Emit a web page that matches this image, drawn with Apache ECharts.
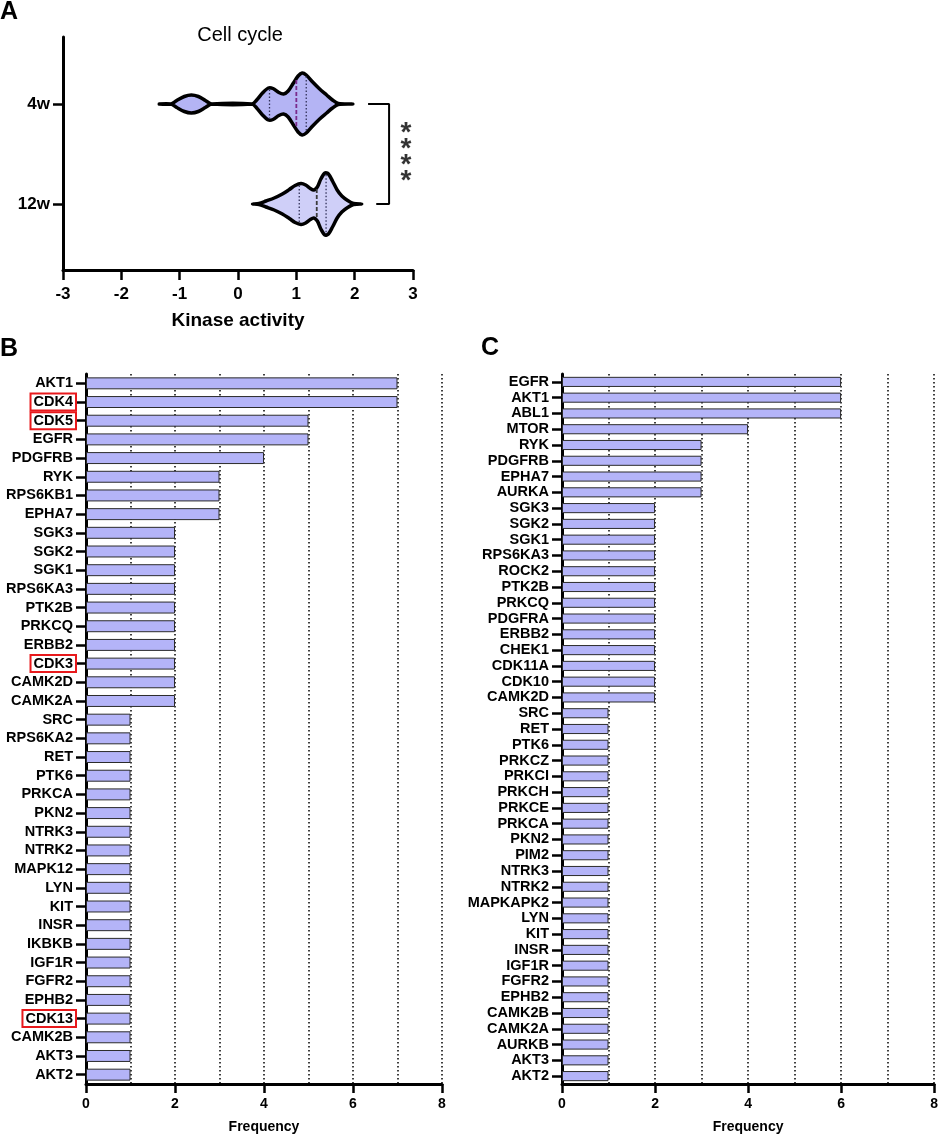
<!DOCTYPE html>
<html>
<head>
<meta charset="utf-8">
<script src="https://cdn.jsdelivr.net/npm/echarts@6.0.0/dist/echarts.min.js"></script>
<style>
html, body { margin: 0; padding: 0; background: #fff; }
#fig { width: 941px; height: 1139px; }
</style>
</head>
<body>
<div id="fig"></div>
<script>
// ---- panel A: violin outlines, [kinase activity, half width]
var groups = ['12w', '4w'];
var violin12w = [
    [0.25, 0], [0.36, 0.005], [0.48, 0.03], [0.62, 0.06], [0.76, 0.10], [0.88, 0.145],
    [0.98, 0.185], [1.08, 0.205], [1.16, 0.19], [1.24, 0.155], [1.30, 0.14], [1.36, 0.17],
    [1.42, 0.25], [1.49, 0.31], [1.55, 0.30], [1.62, 0.23], [1.70, 0.14], [1.78, 0.08],
    [1.88, 0.035], [1.98, 0.005], [2.12, 0]
];
var violin4w = [
    [-1.35, 0], [-1.15, 0], [-1.05, 0.035], [-0.92, 0.075], [-0.80, 0.09], [-0.68, 0.075],
    [-0.56, 0.035], [-0.45, 0], [0.24, 0], [0.32, 0.04], [0.42, 0.11], [0.52, 0.16],
    [0.60, 0.155], [0.70, 0.115], [0.78, 0.10], [0.86, 0.13], [0.95, 0.21], [1.03, 0.28],
    [1.10, 0.31], [1.17, 0.29], [1.28, 0.22], [1.40, 0.15], [1.52, 0.09], [1.62, 0.04],
    [1.72, 0.005], [1.97, 0]
];
var quart12w = [1.05, 1.35, 1.51];
var quart4w = [0.54, 1.00, 1.17];
var bracket = [[2.23, 1], [2.59, 1], [2.59, 0], [2.37, 0]];
var starPos = [[2.88, 0.47]];

// ---- panel B
var kinB = ['AKT1', 'CDK4', 'CDK5', 'EGFR', 'PDGFRB', 'RYK', 'RPS6KB1', 'EPHA7', 'SGK3', 'SGK2',
    'SGK1', 'RPS6KA3', 'PTK2B', 'PRKCQ', 'ERBB2', 'CDK3', 'CAMK2D', 'CAMK2A', 'SRC', 'RPS6KA2',
    'RET', 'PTK6', 'PRKCA', 'PKN2', 'NTRK3', 'NTRK2', 'MAPK12', 'LYN', 'KIT', 'INSR',
    'IKBKB', 'IGF1R', 'FGFR2', 'EPHB2', 'CDK13', 'CAMK2B', 'AKT3', 'AKT2'];
var freqB = [7, 7, 5, 5, 4, 3, 3, 3, 2, 2,
    2, 2, 2, 2, 2, 2, 2, 2, 1, 1,
    1, 1, 1, 1, 1, 1, 1, 1, 1, 1,
    1, 1, 1, 1, 1, 1, 1, 1];
var boxedB = ['CDK4', 'CDK5', 'CDK3', 'CDK13'];

// ---- panel C
var kinC = ['EGFR', 'AKT1', 'ABL1', 'MTOR', 'RYK', 'PDGFRB', 'EPHA7', 'AURKA', 'SGK3', 'SGK2',
    'SGK1', 'RPS6KA3', 'ROCK2', 'PTK2B', 'PRKCQ', 'PDGFRA', 'ERBB2', 'CHEK1', 'CDK11A', 'CDK10',
    'CAMK2D', 'SRC', 'RET', 'PTK6', 'PRKCZ', 'PRKCI', 'PRKCH', 'PRKCE', 'PRKCA', 'PKN2',
    'PIM2', 'NTRK3', 'NTRK2', 'MAPKAPK2', 'LYN', 'KIT', 'INSR', 'IGF1R', 'FGFR2', 'EPHB2',
    'CAMK2B', 'CAMK2A', 'AURKB', 'AKT3', 'AKT2'];
var freqC = [6, 6, 6, 4, 3, 3, 3, 3, 2, 2,
    2, 2, 2, 2, 2, 2, 2, 2, 2, 2,
    2, 1, 1, 1, 1, 1, 1, 1, 1, 1,
    1, 1, 1, 1, 1, 1, 1, 1, 1, 1,
    1, 1, 1, 1, 1];

var FONT = 'Liberation Sans, Arial, sans-serif';
var profiles = [violin12w, violin4w];
var quartiles = [quart12w, quart4w];
var violinFill = ['#cfcff8', '#b4b4f4'];
var medianColor = ['#3c3c3c', '#7a2a8c'];

function halfWidthAt(prof, x) {
    for (var i = 1; i < prof.length; i++) {
        if (x <= prof[i][0]) {
            var a = prof[i - 1], b = prof[i];
            return a[1] + (b[1] - a[1]) * (x - a[0]) / (b[0] - a[0]);
        }
    }
    return 0;
}

function renderViolin(params, api) {
    var g = api.value(1);
    var prof = profiles[g];
    var pts = [];
    var i;
    for (i = 0; i < prof.length; i++) pts.push(api.coord([prof[i][0], g + prof[i][1]]));
    for (i = prof.length - 2; i > 0; i--) pts.push(api.coord([prof[i][0], g - prof[i][1]]));
    var kids = [{
        type: 'polygon',
        shape: { points: pts, smooth: 0.3 },
        style: { fill: violinFill[g], stroke: '#000', lineWidth: 3.5, lineJoin: 'round' }
    }];
    quartiles[g].forEach(function (q, k) {
        var h = halfWidthAt(prof, q) - 0.014;
        var p1 = api.coord([q, g + h]), p2 = api.coord([q, g - h]);
        kids.push({
            type: 'line',
            shape: { x1: p1[0], y1: p1[1], x2: p2[0], y2: p2[1] },
            style: {
                stroke: k === 1 ? medianColor[g] : '#33335a',
                lineWidth: k === 1 ? 1.8 : 1.3,
                lineDash: k === 1 ? [4, 2] : [1.5, 2]
            }
        });
    });
    return { type: 'group', children: kids };
}

function boxedLabel(list) {
    return function (v) {
        return list.indexOf(v) >= 0 ? '{hl|' + v + '}' : '{n|' + v + '}';
    };
}
var kinRich = {
    n: { fontFamily: FONT, fontSize: 14.5, fontWeight: 'bold', color: '#000', lineHeight: 14, padding: [1, 3, 1, 3] },
    hl: { fontFamily: FONT, fontSize: 14.5, fontWeight: 'bold', color: '#000', lineHeight: 14, padding: [1, 3, 1, 3],
          borderColor: '#e8191c', borderWidth: 2 }
};

function barYAxis(grid, names, boxed) {
    return {
        type: 'category', gridIndex: grid, data: names, inverse: true,
        axisLine: { show: true, onZero: false, lineStyle: { color: '#000', width: 3 } },
        axisTick: { show: true, alignWithLabel: true, length: 10, lineStyle: { color: '#000', width: 2.5 } },
        axisLabel: { margin: 10, interval: 0, formatter: boxedLabel(boxed), rich: kinRich },
        splitLine: { show: false }
    };
}
function barXAxis(grid) {
    return {
        type: 'value', gridIndex: grid, min: 0, max: 8, interval: 2,
        name: 'Frequency', nameLocation: 'middle', nameGap: 36,
        nameTextStyle: { fontFamily: FONT, fontSize: 14, fontWeight: 'bold', color: '#000' },
        axisLine: { show: true, onZero: false, lineStyle: { color: '#000', width: 3 } },
        axisTick: { show: true, length: 9, lineStyle: { color: '#000', width: 2.5 } },
        minorTick: { show: false, splitNumber: 2 },
        axisLabel: { margin: 13, fontFamily: FONT, fontSize: 14, fontWeight: 'bold', color: '#000' },
        splitLine: { show: true, lineStyle: { color: '#000', width: 1.5, type: [1.5, 2.5] } },
        minorSplitLine: { show: true, lineStyle: { color: '#000', width: 1.5, type: [1.5, 2.5] } }
    };
}

var chart = echarts.init(document.getElementById('fig'), null, { renderer: 'canvas' });
chart.setOption({
    backgroundColor: '#fff',
    animation: false,
    title: [
        { text: 'A', left: 0, top: 0, padding: 0, textStyle: { fontFamily: FONT, fontSize: 25, fontWeight: 'bold', color: '#000' } },
        { text: 'B', left: 0, top: 337, padding: 0, textStyle: { fontFamily: FONT, fontSize: 25, fontWeight: 'bold', color: '#000' } },
        { text: 'C', left: 481, top: 336, padding: 0, textStyle: { fontFamily: FONT, fontSize: 25, fontWeight: 'bold', color: '#000' } },
        { text: 'Cell cycle', left: 240, textAlign: 'center', top: 25, padding: 0,
          textStyle: { fontFamily: FONT, fontSize: 20, fontWeight: 'normal', color: '#000' } }
    ],
    grid: [
        { left: 63, right: 528, top: 37, bottom: 869 },
        { left: 86, right: 499, top: 374, bottom: 54 },
        { left: 562, right: 4, top: 374, bottom: 54 }
    ],
    xAxis: [
        {
            type: 'value', gridIndex: 0, min: -3, max: 3, interval: 1,
            name: 'Kinase activity', nameLocation: 'middle', nameGap: 41,
            nameTextStyle: { fontFamily: FONT, fontSize: 19, fontWeight: 'bold', color: '#000' },
            axisLine: { show: true, onZero: false, lineStyle: { color: '#000', width: 3 } },
            axisTick: { show: true, length: 10, lineStyle: { color: '#000', width: 2.5 } },
            axisLabel: { margin: 16, fontFamily: FONT, fontSize: 17, fontWeight: 'bold', color: '#000' },
            splitLine: { show: false }
        },
        barXAxis(1),
        barXAxis(2)
    ],
    yAxis: [
        {
            type: 'value', gridIndex: 0, min: -0.66, max: 1.67,
            axisLine: { show: true, onZero: false, lineStyle: { color: '#000', width: 3 } },
            axisTick: { show: true, customValues: [0, 1], length: 10, lineStyle: { color: '#000', width: 2.5 } },
            axisLabel: {
                customValues: [0, 1], margin: 13, fontFamily: FONT, fontSize: 17, fontWeight: 'bold', color: '#000',
                formatter: function (v) { return groups[Math.round(v)]; }
            },
            splitLine: { show: false }
        },
        barYAxis(1, kinB, boxedB),
        barYAxis(2, kinC, [])
    ],
    series: [
        {
            type: 'custom', xAxisIndex: 0, yAxisIndex: 0,
            renderItem: renderViolin,
            data: [[quart12w[1], 0], [quart4w[1], 1]],
            clip: false, z: 3
        },
        {
            type: 'line', xAxisIndex: 0, yAxisIndex: 0, data: bracket,
            symbol: 'none', lineStyle: { color: '#000', width: 2 }, z: 4
        },
        {
            type: 'scatter', xAxisIndex: 0, yAxisIndex: 0, data: starPos, symbolSize: 0,
            label: {
                show: true, position: 'inside', formatter: '*\n*\n*\n*',
                fontFamily: FONT, fontSize: 28, fontWeight: 'bold', color: '#000', lineHeight: 16
            }
        },
        {
            type: 'bar', xAxisIndex: 1, yAxisIndex: 1, data: freqB, barWidth: '64%',
            itemStyle: { color: '#b4b4f8', borderColor: '#2b2b2b', borderWidth: 1 }
        },
        {
            type: 'bar', xAxisIndex: 2, yAxisIndex: 2, data: freqC, barWidth: '64%',
            itemStyle: { color: '#b4b4f8', borderColor: '#2b2b2b', borderWidth: 1 }
        }
    ]
});
</script>
</body>
</html>
